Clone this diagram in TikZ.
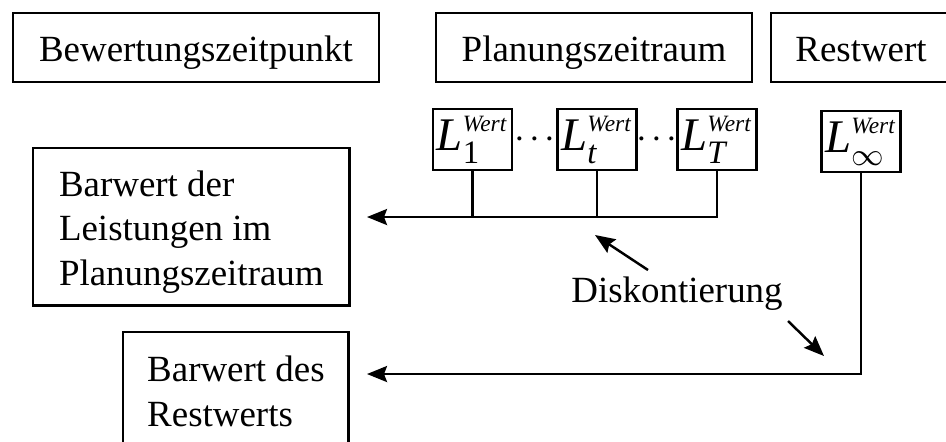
\documentclass[tikz,border=0pt]{standalone}
\usepackage{amsmath}
\usepackage{fontspec}
\setmainfont{Liberation Serif}
\usetikzlibrary{arrows.meta}

\begin{document}
\begin{tikzpicture}[x=0.01cm,y=-0.01cm,
    font=\fontsize{10.5}{12.66}\selectfont,
    kasten/.style={draw,line width=0.7pt,inner sep=0pt},
    kopf/.style={kasten,minimum height=0.69cm,text height=0.27cm,text depth=0cm},
    wert/.style={kasten,minimum width=0.79cm,minimum height=0.61cm,font=\fontsize{13.3}{15}\selectfont},
    linie/.style={line width=0.7pt},
    pfeil/.style={linie,-{Stealth[length=0.2cm,width=0.16cm,inset=0.03cm]}}]
    \useasboundingbox (0,0) rectangle (946,441);

    \node[kopf,minimum width=3.66cm] (bzp) at (196,47.5) {Bewertungszeitpunkt};
    \node[kopf,minimum width=3.16cm] (pzr) at (594,47.5) {Planungszeitraum};
    \node[kopf,minimum width=1.80cm] (rw) at (861,47.5) {Restwert};

    \node[wert] (l1) at (472.5,139.5) {$\textit{L}_{\textrm{1}}^{\scriptscriptstyle\textit{Wert}}$};
    \node (p1) at (535,140) {${\cdot}\mkern2mu{\cdot}\mkern2mu{\cdot}$};
    \node[wert] (lt) at (597,139.5) {$\textit{L}_{\textit{t}}^{\scriptscriptstyle\textit{Wert}}$};
    \node (p2) at (657,140) {${\cdot}\mkern2mu{\cdot}\mkern2mu{\cdot}$};
    \node[wert] (lT) at (717,139.5) {$\textit{L}_{\textit{T}}^{\scriptscriptstyle\textit{Wert}}$};
    \node[wert] (linf) at (861,141.5) {$\textit{L}_{\infty}^{\scriptscriptstyle\textit{Wert}}$};

    \node[kasten,align=left,minimum width=3.16cm,minimum height=1.57cm,text height=1.25cm,text depth=0.08cm,anchor=north west] (bwl) at (32,147) {Barwert der\\Leistungen im\\Planungszeitraum};
    \node[kasten,align=left,inner sep=0.24cm,anchor=north west] (bwr) at (122,331) {Barwert des\\Restwerts};

    \node[anchor=base] (disk) at (677,302) {Diskontierung};

    \coordinate (e1) at (367,217);
    \coordinate (e2) at (367,374);
    \coordinate (d1a) at (648,270);
    \coordinate (d1b) at (595,235);
    \coordinate (d2a) at (788,321);
    \coordinate (d2b) at (824,356);

    \draw[linie] (l1.south) -- (l1.south |- e1);
    \draw[linie] (lt.south) -- (lt.south |- e1);
    \draw[pfeil] (lT.south) |- (e1);
    \draw[pfeil] (linf.south) |- (e2);
    \draw[pfeil] (d1a) -- (d1b);
    \draw[pfeil] (d2a) -- (d2b);
\end{tikzpicture}
\end{document}
